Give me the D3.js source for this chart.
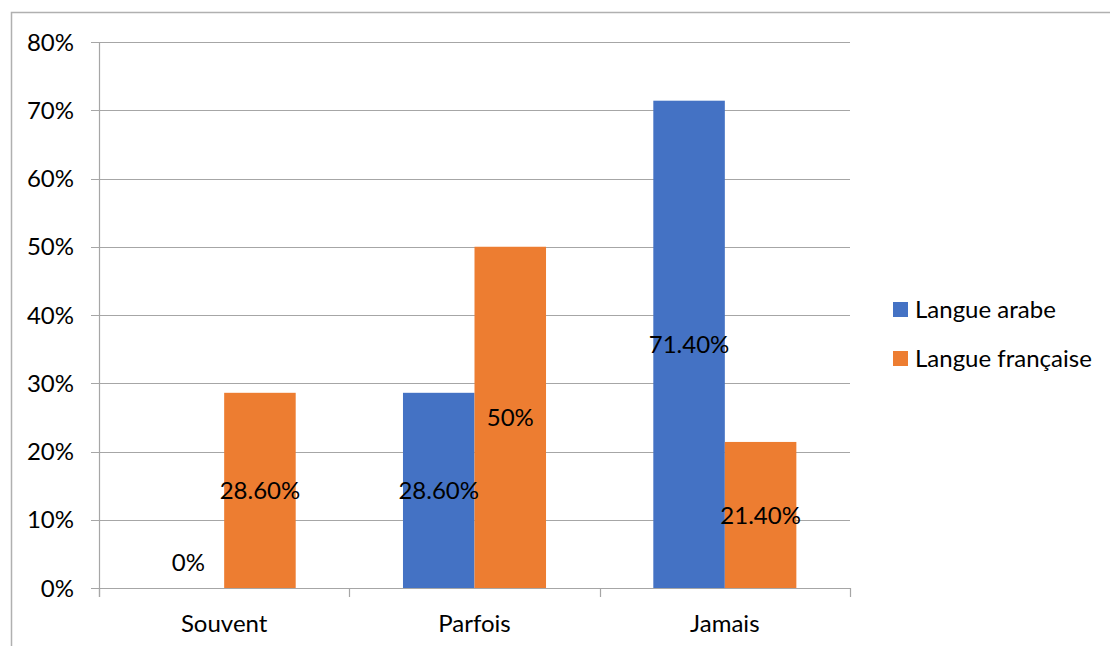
<!DOCTYPE html>
<html>
<head>
<meta charset="utf-8">
<script src="https://cdn.jsdelivr.net/npm/d3@7"></script>
<style>
  html, body { margin: 0; padding: 0; background: #fff; }
  svg { display: block; font-family: Lato, "Open Sans", sans-serif; }
</style>
</head>
<body>
<svg id="chart" width="1110" height="646"></svg>
<script>
// Chart data
const categories = ["Souvent", "Parfois", "Jamais"];
const seriesNames = ["Langue arabe", "Langue française"];
const arabe = [0, 28.6, 71.4];
const francaise = [28.6, 50, 21.4];
const labelsArabe = ["0%", "28.60%", "71.40%"];
const labelsFrancaise = ["28.60%", "50%", "21.40%"];
const yTicks = [0, 10, 20, 30, 40, 50, 60, 70, 80];
const colors = ["#4472C4", "#ED7D31"];

const svg = d3.select("#chart");
const W = 1110, H = 646;
const plotLeft = 99, plotRight = 850, plotTop = 42, plotBottom = 588;
const fontSize = 24;

// Outer frame (left and top edges visible)
svg.append("path")
  .attr("d", `M11.5,${H} L11.5,12.5 L${W},12.5`)
  .attr("fill", "none").attr("stroke", "#b0b0b0").attr("stroke-width", 1.5);

const x0 = d3.scaleBand().domain(categories).range([plotLeft, plotRight]).paddingInner(0).paddingOuter(0);
const x1 = d3.scaleBand().domain(seriesNames).range([0, x0.bandwidth()]).paddingInner(0).paddingOuter(0.75);
const y = d3.scaleLinear().domain([0, 80]).range([plotBottom, plotTop]);

// Gridlines
svg.append("g").selectAll("line").data(yTicks).join("line")
  .attr("x1", plotLeft - 8).attr("x2", plotRight)
  .attr("y1", d => Math.round(y(d)) + 0.5).attr("y2", d => Math.round(y(d)) + 0.5)
  .attr("stroke", "#a6a6a6").attr("stroke-width", 1.2);

// Y axis line
svg.append("line").attr("x1", plotLeft + 0.5).attr("x2", plotLeft + 0.5)
  .attr("y1", plotTop).attr("y2", plotBottom + 9).attr("stroke", "#a6a6a6").attr("stroke-width", 1.2);

// Category tick marks on x axis
const boundaries = categories.map(c => x0(c)).concat([plotRight]);
svg.append("g").selectAll("line").data(boundaries).join("line")
  .attr("x1", d => Math.round(d) + 0.5).attr("x2", d => Math.round(d) + 0.5)
  .attr("y1", plotBottom).attr("y2", plotBottom + 9)
  .attr("stroke", "#a6a6a6").attr("stroke-width", 1.2);

// Y tick labels
svg.append("g").selectAll("text").data(yTicks).join("text")
  .attr("x", 74).attr("y", d => y(d))
  .attr("dy", "0.36em").attr("text-anchor", "end")
  .attr("font-size", fontSize).attr("fill", "#000")
  .text(d => d + "%");

// X category labels
svg.append("g").selectAll("text").data(categories).join("text")
  .attr("x", d => x0(d) + x0.bandwidth() / 2).attr("y", 632)
  .attr("text-anchor", "middle").attr("font-size", fontSize).attr("fill", "#000")
  .text(d => d);

// Bars
const rows = categories.map((c, i) => ({
  cat: c,
  vals: [
    { s: seriesNames[0], v: arabe[i], label: labelsArabe[i], color: colors[0] },
    { s: seriesNames[1], v: francaise[i], label: labelsFrancaise[i], color: colors[1] }
  ]
}));

const groups = svg.append("g").selectAll("g").data(rows).join("g")
  .attr("transform", d => `translate(${x0(d.cat)},0)`);

groups.selectAll("rect").data(d => d.vals).join("rect")
  .attr("x", d => x1(d.s)).attr("width", x1.bandwidth())
  .attr("y", d => y(d.v)).attr("height", d => y(0) - y(d.v))
  .attr("fill", d => d.color);

// Value labels, centred in each bar (zero value sits just above the axis)
groups.selectAll("text").data(d => d.vals).join("text")
  .attr("x", d => x1(d.s) + x1.bandwidth() / 2)
  .attr("y", d => d.v > 0 ? (y(d.v) + y(0)) / 2 : y(0) - 26)
  .attr("dy", "0.36em").attr("text-anchor", "middle")
  .attr("font-size", fontSize).attr("fill", "#000")
  .text(d => d.label);

// Legend
const legend = svg.append("g").selectAll("g").data(seriesNames).join("g")
  .attr("transform", (d, i) => `translate(893,${302 + i * 49})`);
legend.append("rect").attr("width", 15).attr("height", 15).attr("fill", (d, i) => colors[i]);
legend.append("text").attr("x", 22).attr("y", 7.5).attr("dy", "0.36em")
  .attr("font-size", fontSize).attr("fill", "#000").text(d => d);
</script>
</body>
</html>
